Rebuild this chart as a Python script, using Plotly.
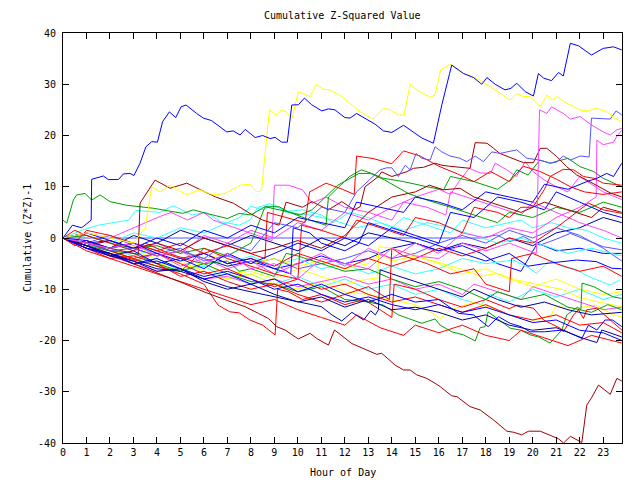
import plotly.graph_objects as go

# ---------------- data: (hour, cumulative value) breakpoints ----------------
HOUR_TICKS = list(range(24))
Y_TICKS = [-40, -30, -20, -10, 0, 10, 20, 30, 40]

blue_top = [(0,0),(0.4,2.5),(0.8,2.0),(1.2,3.5),(1.22,11.45),(1.72,12.1),(1.93,11.4),(2.36,11.4),(2.57,12.5),(2.85,12.6),(3.02,12.2),(3.28,14.6),(3.53,17.8),(3.78,18.8),(4.02,18.7),(4.24,22.7),(4.53,24.6),(4.8,23.5),(5.03,25.6),(5.24,25.95),(5.69,24.3),(5.98,23.4),(6.33,22.9),(6.97,20.7),(7.25,20.9),(7.54,20.1),(7.76,21.2),(8.18,19.6),(8.5,20.0),(8.82,19.4),(9.03,19.65),(9.31,18.7),(9.55,18.7),(9.74,25.95),(10.02,26.0),(10.28,27.3),(10.59,26.0),(11.02,24.8),(11.3,25.2),(11.58,25.0),(12.0,23.5),(12.22,23.4),(12.5,24.3),(12.86,23.4),(13.29,22.2),(13.64,20.9),(14.0,20.6),(14.5,22.0),(14.78,21.1),(15.28,19.5),(15.77,18.5),(16.13,26.0),(16.46,32.1),(16.55,33.75),(17.05,32.1),(17.48,31.3),(17.83,30.0),(18.05,31.3),(18.4,30.0),(18.82,28.9),(19.07,29.2),(19.32,30.2),(19.68,28.55),(20.03,27.7),(20.24,32.1),(20.46,31.2),(20.8,30.7),(21.1,32.3),(21.3,31.6),(21.6,38.0),(21.95,37.5),(22.5,35.7),(23.0,37.0),(23.44,37.3),(23.79,36.7)]

yellow_top = [(0,0),(1,1),(2,0),(3,-1),(3.5,2),(3.78,10.0),(4.13,9.0),(4.56,10.3),(5.27,8.4),(5.83,9.4),(6.39,8.4),(6.9,8.7),(7.54,10.3),(7.96,10.5),(8.24,9.0),(8.45,9.2),(8.79,25.0),(9.07,24.0),(9.31,25.0),(9.55,24.5),(9.74,23.2),(10.02,28.55),(10.52,27.6),(10.78,30.0),(11.09,29.0),(11.37,28.9),(11.87,27.6),(12.22,26.3),(12.65,24.65),(13.2,23.2),(13.64,25.3),(13.93,25.0),(14.28,24.0),(14.52,24.0),(14.78,30.0),(15.06,28.9),(15.35,28.2),(15.63,27.45),(15.84,27.9),(16.08,32.8),(16.48,33.9),(16.9,32.5),(17.76,30.8),(18.6,28.2),(19.04,26.9),(19.32,28.2),(19.6,27.6),(19.89,27.6),(20.32,25.6),(20.6,27.9),(20.86,26.9),(21.02,27.6),(21.45,26.3),(22.02,25.0),(22.3,24.8),(22.73,25.3),(23.15,24.65),(23.44,23.55),(23.79,22.7)]

magenta_top = [(0,0),(1,-1),(2,-2),(3,-1),(4,-3.5),(5,-2.5),(6,-5),(7,-3),(8,-6),(9,-5),(10,-8),(11,-4),(12,-5),(13,-6),(14,-2),(15,-3.5),(16,-4),(17,-1),(18,-2.5),(19,-1),(20.15,-3),(20.29,25.0),(20.6,24.3),(20.8,25.6),(21.3,24.3),(21.6,23.2),(22.02,23.7),(22.5,22.05),(23.0,20.7),(23.3,20.1),(23.58,21.1),(23.79,21.4)]

darkred_bottom = [(0,0),(1,-1.5),(2,-3.3),(3,-5),(4,-6.8),(5,-8.6),(6,-10.5),(7,-12.2),(7.75,-13.4),(8.32,-14.7),(8.74,-15.7),(9.1,-17.3),(9.45,-17.95),(10.02,-19.7),(10.52,-18.6),(10.8,-19.6),(11.3,-20.9),(11.56,-17.95),(11.87,-19.0),(12.3,-20.6),(12.93,-21.85),(13.36,-22.7),(13.57,-22.5),(14.14,-24.8),(14.5,-25.75),(14.78,-25.75),(15.06,-26.7),(15.49,-27.4),(15.84,-28.35),(16.06,-29.0),(16.55,-30.8),(16.77,-30.95),(17.33,-32.9),(17.76,-33.55),(18.33,-35.5),(18.9,-37.7),(19.18,-37.9),(19.53,-38.4),(19.82,-37.7),(20.32,-37.7),(20.74,-38.5),(21.1,-39.2),(21.31,-40.0),(21.6,-38.7),(22.09,-39.9),(22.3,-32.6),(22.5,-31.2),(22.8,-28.7),(23.3,-30.5),(23.58,-27.4),(23.79,-27.9)]

green_low = [(0,0),(1,-1.5),(2,-2.5),(3,-3),(4,-5),(5,-6.5),(6,-5),(7,-7),(8,-8.5),(9,-9),(10,-10.5),(11,-9.5),(12,-12),(13,-12.5),(13.64,-13.1),(14.28,-15),(14.7,-15.7),(15.28,-16.65),(15.5,-16.3),(15.84,-15.8),(16.06,-17),(16.55,-18.3),(17.05,-18.9),(17.55,-20.1),(17.76,-17.5),(17.97,-17.3),(18.1,-14.4),(18.47,-15.7),(19.04,-17.6),(19.5,-18),(19.89,-18.9),(20.24,-19.3),(20.74,-20.5),(21.24,-17.95),(21.45,-15.0),(21.9,-13.5),(22.05,-14.0),(22.1,-8.8),(22.6,-9.5),(23.0,-10.5),(23.44,-11.5),(23.79,-11.8)]

b01 = [(0,3.5),(0.16,2.9),(0.44,7.4),(0.58,8.4),(0.94,8.7),(1.22,7.4),(1.58,8.4),(2.0,7.1),(2.7,6.4),(3.85,5.8),(5.1,4.8),(5.55,5.5),(6.1,4.8),(7.0,3.8),(7.5,4.8),(8.0,4.5),(8.6,6.1),(9.6,5.1),(10.5,3.5),(11.2,2.5),(11.3,8),(12.2,12),(12.7,13.3),(13.2,12.5),(13.6,11.7),(14.5,11),(15.5,10),(16.2,9.4),(16.5,12),(17.5,11),(18.5,9.5),(19.04,11.3),(19.32,13.3),(19.8,12.3),(20.3,15.2),(20.74,14.6),(21.5,15.55),(22.02,13.9),(22.6,12.95),(23.0,11.65),(23.79,10)]
b02 = [(0,0),(0.5,-1),(1,-0.5),(2,-2),(3.2,-3.2),(3.28,6.8),(3.92,11.3),(4.56,9.7),(5.27,10.7),(5.83,9.4),(6.5,8),(7.25,6.8),(7.96,4.8),(8.5,3.5),(9.2,2.5),(9.5,7),(10.2,6),(10.6,7.1),(11.3,5.5),(11.87,7.1),(12.4,5.5),(12.65,6.1),(12.86,10),(13.43,12.0),(13.57,12.9),(14.0,12.0),(14.2,12.3),(14.64,12.95),(14.92,13.6),(15.35,13.8),(15.84,14.6),(16.13,14.2),(16.46,14.0),(17.33,13.6),(17.55,18.6),(18.05,18.5),(18.33,17.5),(18.6,16.5),(19.32,15.2),(19.6,14.7),(20.03,14.7),(20.32,17.5),(20.6,17.5),(21.02,15.9),(21.45,13.9),(21.87,12.3),(22.3,11.3),(22.8,10),(23.3,8.8),(23.79,8)]
b03 = [(0,0),(1,-1),(2,-2.5),(3,-2),(4,-3.5),(5,-2.5),(6,-4),(7,-1),(8,-2.5),(9,3),(10,2),(11,6),(12,5),(12.5,9),(13.5,13.3),(13.78,13.7),(14.0,13.7),(14.28,12.0),(14.57,14.2),(14.78,13.3),(15.03,16.5),(15.28,15.55),(15.63,15.2),(15.84,17.8),(16.13,16.8),(16.48,16.0),(16.9,15.55),(17.19,14.9),(17.55,16.0),(17.9,14.9),(18.26,16.8),(18.6,16.5),(19.32,17.2),(19.75,15.55),(20.3,15.2),(20.74,14.6),(21.0,14.8),(21.3,16.0),(21.6,15.2),(22.02,16.0),(22.4,15.8),(22.5,23.4),(23.3,23.2),(23.55,24.8),(23.79,24.0)]
b04 = [(0,0),(1,-1.5),(2,-0.5),(3,-2.5),(4,-1),(5,-3),(6,0.5),(7,-1),(8,1.5),(9,0),(10,3),(11,1.5),(12,5),(13,3.5),(14,6),(15,8),(16,9.5),(16.5,8.5),(16.9,11.3),(17.3,13.6),(17.76,12.7),(18.2,12.6),(18.4,14.6),(18.9,13.3),(19.3,12),(19.68,14.9),(20.0,13),(20.5,11.3),(21,10),(21.5,9),(22,12),(22.5,10.5),(23,9),(23.79,7.5)]
b05 = [(0,0),(1,-2),(2,-3),(3,-4.5),(4,-3),(5,-5.5),(6,-4),(7,-6),(8,-4.5),(9,-7),(10,-5),(11,-3),(12,-5.5),(13,-2),(14,-4),(15,-1),(16,-3),(17,1),(18,0),(19,2),(20,1),(21,4),(22,6),(22.7,8),(22.73,19.1),(23.0,18.2),(23.44,18.7),(23.6,20),(23.79,21)]
b06 = [(0,0),(1,1),(2,-0.5),(3,-2),(4,0),(5,-1.5),(6,1.5),(7,0),(8,2.5),(9,1),(10,4),(11,3),(12,2),(12.5,7),(13.5,6),(14.5,5),(15,8),(16,7),(17,5.5),(18,9),(19,8),(20,7),(20.5,10.5),(21.5,9.5),(22.3,11),(22.73,11.65),(23.15,12.6),(23.44,12),(23.79,14.6)]
b07 = [(0,0),(1,-2),(2,-3.5),(3,-2.5),(4,-5),(5,-4),(6,-6),(7,-3),(8,-5),(9,-3),(10,-1),(11,-2.5),(12,0),(13,-1.5),(14,2),(15,0.5),(16,-1),(16.5,5),(17.5,4),(18.5,8),(19.5,7),(20.5,5.5),(21,9),(22,7),(23,5),(23.79,4)]
b08 = [(0,0),(1,-1),(2,-2),(3,0.5),(4,-1),(5,1.5),(6,0),(7,-1.5),(8,0.5),(9,-1),(10,-2.5),(11,0),(12,-1.5),(13,1),(14,0),(15,-1),(16,-2.5),(17,-1),(18,-2),(19,0),(20,-1.5),(21,1),(22,2),(23,4),(23.79,3)]
b09 = [(0,0),(0.8,1.5),(1.5,2.5),(2.8,3.5),(3.1,5.4),(4.1,5.0),(4.7,6.3),(5.5,4.5),(6.1,5.0),(6.7,3.2),(7.5,2.5),(7.96,3.5),(8.3,6),(8.8,6.7),(9.5,5.2),(10.2,5.5),(11,4.5),(11.5,3),(12.2,5),(13,4),(14,2),(14.5,4),(15.5,2.5),(16.5,1),(17,3.5),(18,2),(19.18,3.2),(19.5,3.5),(20,2),(20.8,3),(21.5,2),(22.3,1.5),(23,0),(23.79,-1)]
b10 = [(0,0),(1,-1.5),(2,-2),(3,-3.5),(4,-2),(5,-4),(6,-3),(7,-5),(8,-3.5),(9,-5.5),(10,-4),(11,-6),(12,-5),(13,-7),(14,-5.5),(15,-7),(16,-6),(17,-4),(18,-5),(19.18,-4.3),(19.75,-5.6),(20.17,-6.9),(20.74,-4.3),(21.3,-5.6),(21.87,-6.2),(22.37,-7.5),(23.3,-9.2),(23.7,-8.2)]
b11 = [(0,0),(1,-2),(2,-3.5),(3,-5),(4,-4),(5,-6.5),(6,-5.5),(7,-8),(8,-7),(9,-9),(10,-7.5),(11,-9.5),(12,-8),(13,-10),(14,-9),(15,-11),(16,-10),(17,-12),(17.8,-13),(18.2,-11),(19,-12.5),(20,-10),(21,-11.5),(22,-10),(23,-12),(23.79,-11)]
b12 = [(0,0),(0.5,-1.5),(1,-0.5),(2,-2.5),(3,-4),(4,-3),(5,-5),(6,-7),(7,-6),(8,-8),(9,-9.5),(10,-8),(11,-10),(12,-9),(13,-11),(14,-12.5),(15,-11.5),(16,-13),(17,-14.5),(18,-13),(19,-15),(20,-16),(21,-15),(22,-17),(23,-16.5),(23.79,-18.5)]
b13 = [(0,0),(1,-2),(2,-3),(3,-5),(4,-4.5),(5,-6),(6,-8),(7,-7),(8,-9),(9,-8),(10,-10.5),(11,-9),(12,-11),(13,-12.5),(14,-11),(15,-12.5),(16,-12),(16.5,-13.7),(16.84,-14.7),(17.48,-15),(18.1,-17.3),(18.54,-15.35),(19.04,-16.65),(19.5,-17.3),(19.89,-18.3),(20.5,-18.3),(21.3,-17.95),(22.09,-19.6),(22.37,-17),(22.73,-17.95),(23.08,-16),(23.4,-16),(23.79,-17.3)]
b14 = [(0,0),(1,-1.5),(2,-3.5),(3,-4.5),(4,-6.5),(5,-6),(6,-8.5),(7,-10),(8,-9),(9,-11),(10,-12.5),(11,-11.5),(12,-13.5),(13,-12),(14,-14),(15,-13.5),(16,-14.5),(17,-16),(18,-15),(19,-17),(20,-18),(21,-17.5),(22.16,-19.6),(22.73,-20.4),(22.94,-17.95),(23.79,-19.3)]
b15 = [(0,0),(1,-1),(2,-2.5),(3,-4),(4,-5.5),(5,-4.5),(6,-6.5),(7,-8),(8,-7),(9,-9),(10,-10),(11,-8.5),(12,-10.5),(13,-11),(14,-12),(15,-13),(15.63,-14.4),(16.06,-15.7),(16.5,-14),(17.5,-12.5),(18.47,-14),(18.97,-15),(19.89,-16.3),(20.8,-15),(20.95,-13.4),(21.87,-13.7),(22.7,-13.1),(23.44,-15),(23.79,-15.35)]
b16 = [(0,0),(1,-1.5),(2,-3),(3,-2.5),(4,-4),(5,-6),(6,-5),(7,-7),(8,-6.5),(9,-8),(10,-6),(11,-7.5),(12,-9),(13,-8),(13.4,-7.8),(13.45,-1.7),(14,-2),(15,-3.5),(16,-5),(17,-7),(18,-6),(19,-8),(20,-9.5),(21,-8),(22,-10),(23,-11),(23.79,-10.5)]
b17 = [(0,0),(1,-1),(2,-2.5),(3,-4),(4,-5.5),(5,-6.5),(5.5,-4.5),(6,-5),(7,-4.5),(7.5,-6.5),(8,-6),(9,-7.5),(9.5,-3),(10,-3.5),(11,-5),(12,-6.5),(13,-6),(14,-8),(15,-9.5),(16,-8.5),(17,-10),(18,-12),(18.5,-10.5),(19.5,-12),(20.5,-11),(21.5,-13.5),(22.5,-14.5),(23.2,-13),(23.79,-14)]
b18 = [(0,0),(1,0.5),(2,-1),(3,-2),(4,-1.5),(5,-3),(6,-2),(7,-3.5),(8,-1),(8.6,6.1),(9.2,6.1),(9.6,5.1),(10.1,4.5),(10.6,5.5),(11.7,10.3),(12.6,12.6),(13.1,12.6),(13.7,11.3),(14.7,8.7),(15.5,7.4),(16.5,6),(17.5,4.5),(18.5,3),(19,5),(20,4),(21,6),(22,5),(23,7),(23.79,6)]
b19 = [(0,0),(1,1),(2,0),(3,2),(4.13,4.2),(4.6,5),(5.3,3.5),(6,5),(6.4,3.5),(7,2.5),(8,1),(8.9,-0.5),(9.0,10.3),(9.6,10.3),(10.2,9.4),(10.6,6.8),(11.2,8),(12,6),(13,5),(14,3.5),(14.5,7),(15.5,6),(16.3,4.5),(16.5,9),(17.5,7.5),(18.5,6),(19.5,4.5),(20,7),(21,5),(22,3),(23,1.5),(23.79,0)]
b20 = [(0,0),(1,-2),(2,-3.5),(3,-5),(4,-6.5),(5,-6),(6,-8),(7,-7.5),(8,-9),(9,-8),(10,-9.5),(11,-8.5),(12,-7.5),(13,-9),(14,-8),(15,-10),(16,-9),(17,-11),(17.5,-9),(18.5,-10.5),(19.5,-12),(20,-9.5),(21,-11),(22,-12.5),(23,-14),(23.79,-13.5)]
b21 = [(0,0),(0.5,-1),(1,1.5),(2,0.5),(3,-1),(4,-2.5),(5,-1),(6,-3),(7,-1.5),(8,-3),(8.6,-4),(8.7,5),(9.5,4),(10.3,3),(10.5,9),(11.2,10.7),(11.9,9.5),(12.4,8.5),(12.5,16),(13.2,15.5),(14,14.5),(14.5,17),(15.2,16),(16,14),(16.8,12.5),(17.5,11),(18.2,13),(19,11),(19.6,14),(20.3,13),(21,11.5),(21.6,10),(22.2,9),(23,8.5),(23.79,9)]
b22 = [(0,0),(17.76,0),(18.47,0.6),(19.04,-0.7),(19.6,0.3),(20.3,-1.4),(20.9,-0.4),(21.6,0.9),(22.3,-0.4),(23.0,-1.7),(23.79,-2.3)]
b23 = [(0,0),(1,-1),(2,0.5),(3,-1.5),(4,-3),(5,-2),(6,-4.5),(7,-3.5),(8,-5),(9,-4),(10,-6),(11,-5),(12,-4),(13,-2.5),(14,-4),(15,-3),(16,-1),(17,0.5),(18,-1),(19,1.5),(20,0),(21,2),(22,0.5),(23,-2),(23.79,-4.5)]
b24 = [(0,0),(1,-0.5),(2,-2),(3,-1),(4,-3),(5,-4.5),(6,-3),(7,-5),(8,-4),(9,-6),(9.7,-7),(9.8,2),(10.5,1),(11,-1),(12,-2.5),(12.6,-1),(13,3),(14,1.5),(15,0),(16,-1.5),(17,-3),(18,-4.5),(19,-3),(19.8,-5.5),(20.5,-5),(21.87,-4.3),(22.7,-4.6),(23.37,-5.9),(23.79,-6)]
b25 = [(0,0),(1,-2.5),(2,-4),(3,-3.5),(4,-5),(5,-7.5),(6,-6.5),(7,-8.5),(8,-10),(9,-9),(10,-11),(11,-12.5),(12,-11),(13,-9.5),(13.9,-12),(14.0,-2),(14.5,-3.5),(15.5,-5),(16.5,-7),(17.5,-6),(18,-9),(19,-10.5),(19.1,-4),(20,-3),(21,-5),(22,-6.5),(23,-5.5),(23.79,-7.5)]
b26 = [(0,0),(1,-1.5),(2,-0.5),(3,-2),(4,-1),(5,-2.5),(6,0),(7,-1.5),(8,-3),(9,-2),(10,-0.5),(11,-2),(12,0.5),(13,5),(14,8),(15,9),(15.6,10.3),(16.2,9.4),(16.9,9.7),(17.5,8),(18.5,6.5),(19.5,5),(20.5,7),(21.5,5.5),(22.5,4),(23,6),(23.79,5)]
b27 = [(0,0),(1,-2),(2,-3),(3,-5),(4,-4),(5,-6),(6,-7.5),(7,-6.5),(8,-8),(9,-10),(10,-9),(11,-11),(12,-12.5),(13,-11.5),(14,-13),(15,-14),(16,-13),(17,-14.5),(18,-13.5),(19,-15),(20,-16.5),(21,-16),(22,-18),(23,-18.5),(23.79,-20)]
b28 = [(0,0),(1,0.5),(2,-1),(3,1),(4,0),(5,2),(6,1),(7,3),(7.5,4),(8,6.2),(8.5,5.5),(9,6.5),(9.5,5),(10.5,4.5),(11.5,3.5),(12.5,2),(13.5,3),(14.5,1.5),(15.5,3),(16.5,2),(17.5,0.5),(18.5,-1),(19.5,0),(20.5,-1.5),(21.5,-3),(22.5,-2),(23.79,-3.5)]
b29 = [(0,0),(1,-1),(2,-2),(3,-1.5),(4,-3.5),(5,-2.5),(6,-4),(7,-3),(8,-5),(9,-4),(10,-5.5),(11,-4.5),(12,-6),(13,-5),(13.5,-3),(14,-4.5),(15,-3.5),(15.63,-4.3),(17.05,-6.2),(17.76,-7.5),(18.47,-6.9),(19.3,-8.2),(20.3,-9.2),(21.3,-10.1),(21.9,-11.45),(22.7,-12.4),(23.79,-13.4)]
b32 = [(0,0),(1,-2),(2,-4),(3,-5.5),(4,-7),(5,-8.5),(6,-10),(7,-11.5),(8,-13),(9,-12),(10,-14),(11,-15.5),(12,-17),(12.5,-15),(13.5,-17.5),(14.5,-19),(15,-17),(16,-18.5),(17,-17),(18,-19),(19,-20),(19.5,-18),(20.5,-19.5),(21.5,-21),(22.5,-19),(23.79,-20.5)]
b33 = [(0,0),(1,-1.5),(2,-3),(3,-4.5),(4,-6),(5,-6.5),(6,-8),(7,-9.5),(8,-10.5),(9,-11.5),(10,-12.5),(10.6,-13.1),(11.0,-13.4),(11.45,-15),(11.87,-16.2),(12.3,-14.5),(12.8,-16),(13.1,-14.2),(13.3,-15),(13.43,-14),(13.5,-6.2),(14,-7),(15,-8.5),(16,-10),(17,-11.5),(17.5,-10),(18.5,-12),(19.5,-13.5),(20.5,-12.5),(21.5,-14),(22.5,-15),(23.79,-14.5)]
b34 = [(0,0),(0.5,1.5),(1,0.5),(2,-1),(3,-2.5),(3.5,-1),(4.5,-3),(5.5,-4.5),(6,-2),(7,-4),(8,-5.5),(9,-7),(10,-8),(10.16,2.5),(11,1.5),(12,0),(12.5,3.5),(13.5,2),(14.5,0.5),(15,4),(16,3),(17,1),(17.5,6),(18.5,5),(19,4),(19.5,6),(20,6),(20.5,9.5),(20.74,12),(21.3,13.4),(21.74,13.3),(22.16,12),(22.6,11.65),(23.0,10.7),(23.79,10.3)]
b35 = [(0,0),(1,-1),(2,-0.5),(3,-2),(4,-3.5),(5,-2.5),(6,-4),(7,-5.5),(8,-4.5),(9,-6),(10,-5),(11,-3.5),(12,-5),(13,-4),(14,-2),(15,-1),(16,-2.5),(17,-1.5),(17.8,-3),(18.5,-5),(19.5,-6.5),(20.2,-1),(21,-2.5),(22,-2),(23,-3),(23.79,-3)]
r1 = [(0,0),(1,-1.5),(2,-3),(3,-4.2),(4,-5.5),(5,-7),(6,-9),(6.6,-13.1),(7.1,-14.4),(7.5,-14.6),(7.96,-16),(8.5,-17),(9.03,-18.9),(9.14,-10),(9.6,-10.5),(10.2,-12),(11,-11),(12,-13),(12.8,-12),(13.5,-14),(14,-15.5),(14.1,-9),(15,-10),(16,-12),(17,-13.5),(18,-12),(19,-13.8),(19.32,-13.1),(20.03,-13.7),(20.46,-16),(21.17,-17.6),(21.3,-18.3),(21.74,-15),(21.95,-14),(22.16,-15.7),(22.3,-14),(22.73,-13.7),(23.3,-16),(23.79,-17.95)]
r2 = [(0,0),(1,-1),(2,-2),(3,-1),(4,-2.5),(5,-4),(6,-3),(7,-5),(8,-4),(9,-5.5),(10,-3),(11,-4.5),(12,-6),(13,-4),(14,-5.5),(15,-4),(16,-2),(17,-3.5),(18,-2),(19,0),(20,-1),(21,2),(22.37,6.8),(23,5.5),(23.79,4.8)]

RED, GREEN, BLUE = "#ff0000", "#00a000", "#0000ff"
MAGENTA, CYAN, DARKRED = "#ff44ff", "#33ffff", "#a00000"
YELLOW, LBLUE, NAVY = "#ffff00", "#5555ff", "#0000a0"

series = [
    (b22, LBLUE), (b08, NAVY), (b23, LBLUE), (b35, BLUE), (b28, CYAN), (b09, CYAN),
    (b10, CYAN), (b11, CYAN), (b29, YELLOW), (b16, YELLOW), (b15, YELLOW),
    (b20, MAGENTA), (b19, MAGENTA), (b04, MAGENTA), (b05, MAGENTA),
    (b17, GREEN), (b18, GREEN), (b01, GREEN), (green_low, GREEN),
    (b12, RED), (b25, RED), (b32, RED), (b21, RED), (b34, RED), (r1, RED), (r2, RED),
    (b26, DARKRED), (b02, DARKRED), (darkred_bottom, DARKRED),
    (b24, BLUE), (b07, BLUE), (b06, BLUE), (b13, BLUE), (b27, BLUE),
    (b14, NAVY), (b33, NAVY), (b03, LBLUE),
    (magenta_top, MAGENTA), (yellow_top, YELLOW), (blue_top, BLUE),
]

fig = go.Figure()
for pts, col in series:
    fig.add_trace(go.Scatter(x=[p[0] for p in pts], y=[p[1] for p in pts],
                             mode="lines", line=dict(color=col, width=1),
                             hoverinfo="skip"))

FONT = "DejaVu Sans Mono"
axis_common = dict(showline=True, linecolor="black", linewidth=1, mirror="ticks",
                   ticks="inside", ticklen=6, tickcolor="black", tickwidth=1,
                   showgrid=False, zeroline=False,
                   tickfont=dict(family=FONT, size=10, color="black"))
fig.update_xaxes(range=[0, 23.8], tickmode="array", tickvals=HOUR_TICKS,
                 ticktext=[str(h) for h in HOUR_TICKS], **axis_common)
fig.update_yaxes(range=[-40, 40], tickmode="array", tickvals=Y_TICKS,
                 ticktext=[str(v) for v in Y_TICKS], ticklabelstandoff=4, **axis_common)

fig.update_layout(
    width=640, height=480, margin=dict(l=63, r=18, t=33, b=37),
    plot_bgcolor="white", paper_bgcolor="white", showlegend=False,
    font=dict(family=FONT, size=10, color="black"),
    annotations=[
        dict(text="Cumulative Z-Squared Value", xref="paper", yref="paper",
             x=0.5, y=1 + 17 / 410, xanchor="center", yanchor="middle",
             showarrow=False, font=dict(family=FONT, size=10)),
        dict(text="Hour of Day", xref="paper", yref="paper",
             x=0.5, y=-29 / 410, xanchor="center", yanchor="middle",
             showarrow=False, font=dict(family=FONT, size=10)),
        dict(text="Cumulative (Z*Z)-1", xref="paper", yref="paper",
             x=-36 / 559, y=0.5, xanchor="center", yanchor="middle", textangle=-90,
             showarrow=False, font=dict(family=FONT, size=10)),
    ],
)

fig.write_html("out.html")
